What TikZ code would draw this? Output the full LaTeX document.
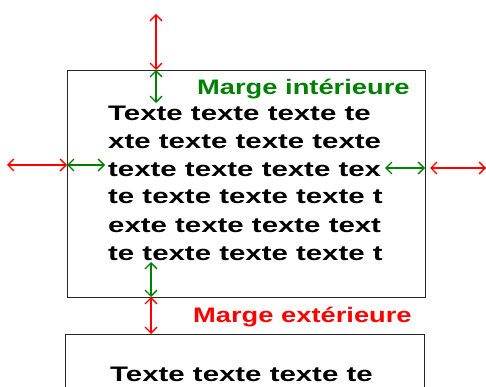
\documentclass[tikz,border=0pt]{standalone}
\usepackage{fontspec}
\setmainfont{Liberation Sans}
\newfontfamily\widefont[FakeStretch=1.4]{Liberation Sans}
\newfontfamily\lblfont[FakeStretch=1.3]{Liberation Sans}
\usetikzlibrary{arrows.meta}
\begin{document}
\begin{tikzpicture}[x=1pt,y=-1pt,
  boxline/.style={draw=black!85,line width=0.9pt},
  marr/.style={<->,>={Straight Barb[length=6pt,width=12pt]},line width=1.4pt},
  redarr/.style={marr,draw=red},
  grnarr/.style={marr,draw=green!50!black},
  body/.style={inner sep=0pt,anchor=base west,font=\widefont\bfseries\fontsize{21}{28}\selectfont},
  lbl/.style={inner sep=0pt,anchor=base west,font=\lblfont\bfseries\fontsize{21}{24}\selectfont}]
\useasboundingbox (0,0) rectangle (486,387);
\clip (0,0) rectangle (486,387);
% boxes
\draw[boxline] (67,70) rectangle (425,297);
\draw[boxline] (65,400) -- (65,334) -- (424,334) -- (424,400);
% text
\node[body] (l1) at (108,121) {Texte texte texte te};
\node[body] (l2) at (108,149) {xte texte texte texte};
\node[body] (l3) at (108,176) {texte texte texte tex};
\node[body] (l4) at (108,204) {te texte texte texte t};
\node[body] (l5) at (108,232) {exte texte texte text};
\node[body] (l6) at (108,260) {te texte texte texte t};
\node[body] (b1) at (110,381) {Texte texte texte te};
\node[lbl,text=green!50!black] (mi) at (197,95) {Marge intérieure};
\node[lbl,text=red] (me) at (193,322) {Marge extérieure};
% coordinates
\coordinate (t0) at (156,14); \coordinate (t1) at (156,70); \coordinate (t2) at (156,103);
\coordinate (a0) at (7,165); \coordinate (a1) at (67,165); \coordinate (a2) at (105,165);
\coordinate (r2) at (385,168); \coordinate (r1) at (425,168); \coordinate (r0) at (430,168); \coordinate (r00) at (486,168);
\coordinate (b2) at (151,262); \coordinate (b1c) at (151,297); \coordinate (b0) at (151,334);
% arrows
\draw[redarr] (t0) -- (t1);
\draw[grnarr] (t1) -- (t2);
\draw[redarr] (a0) -- (a1);
\draw[grnarr] (a1) -- (a2);
\draw[grnarr] (r2) -- (r1);
\draw[redarr] (r0) -- (r00);
\draw[grnarr] (b2) -- (b1c);
\draw[redarr] (b1c) -- (b0);
\end{tikzpicture}
\end{document}
